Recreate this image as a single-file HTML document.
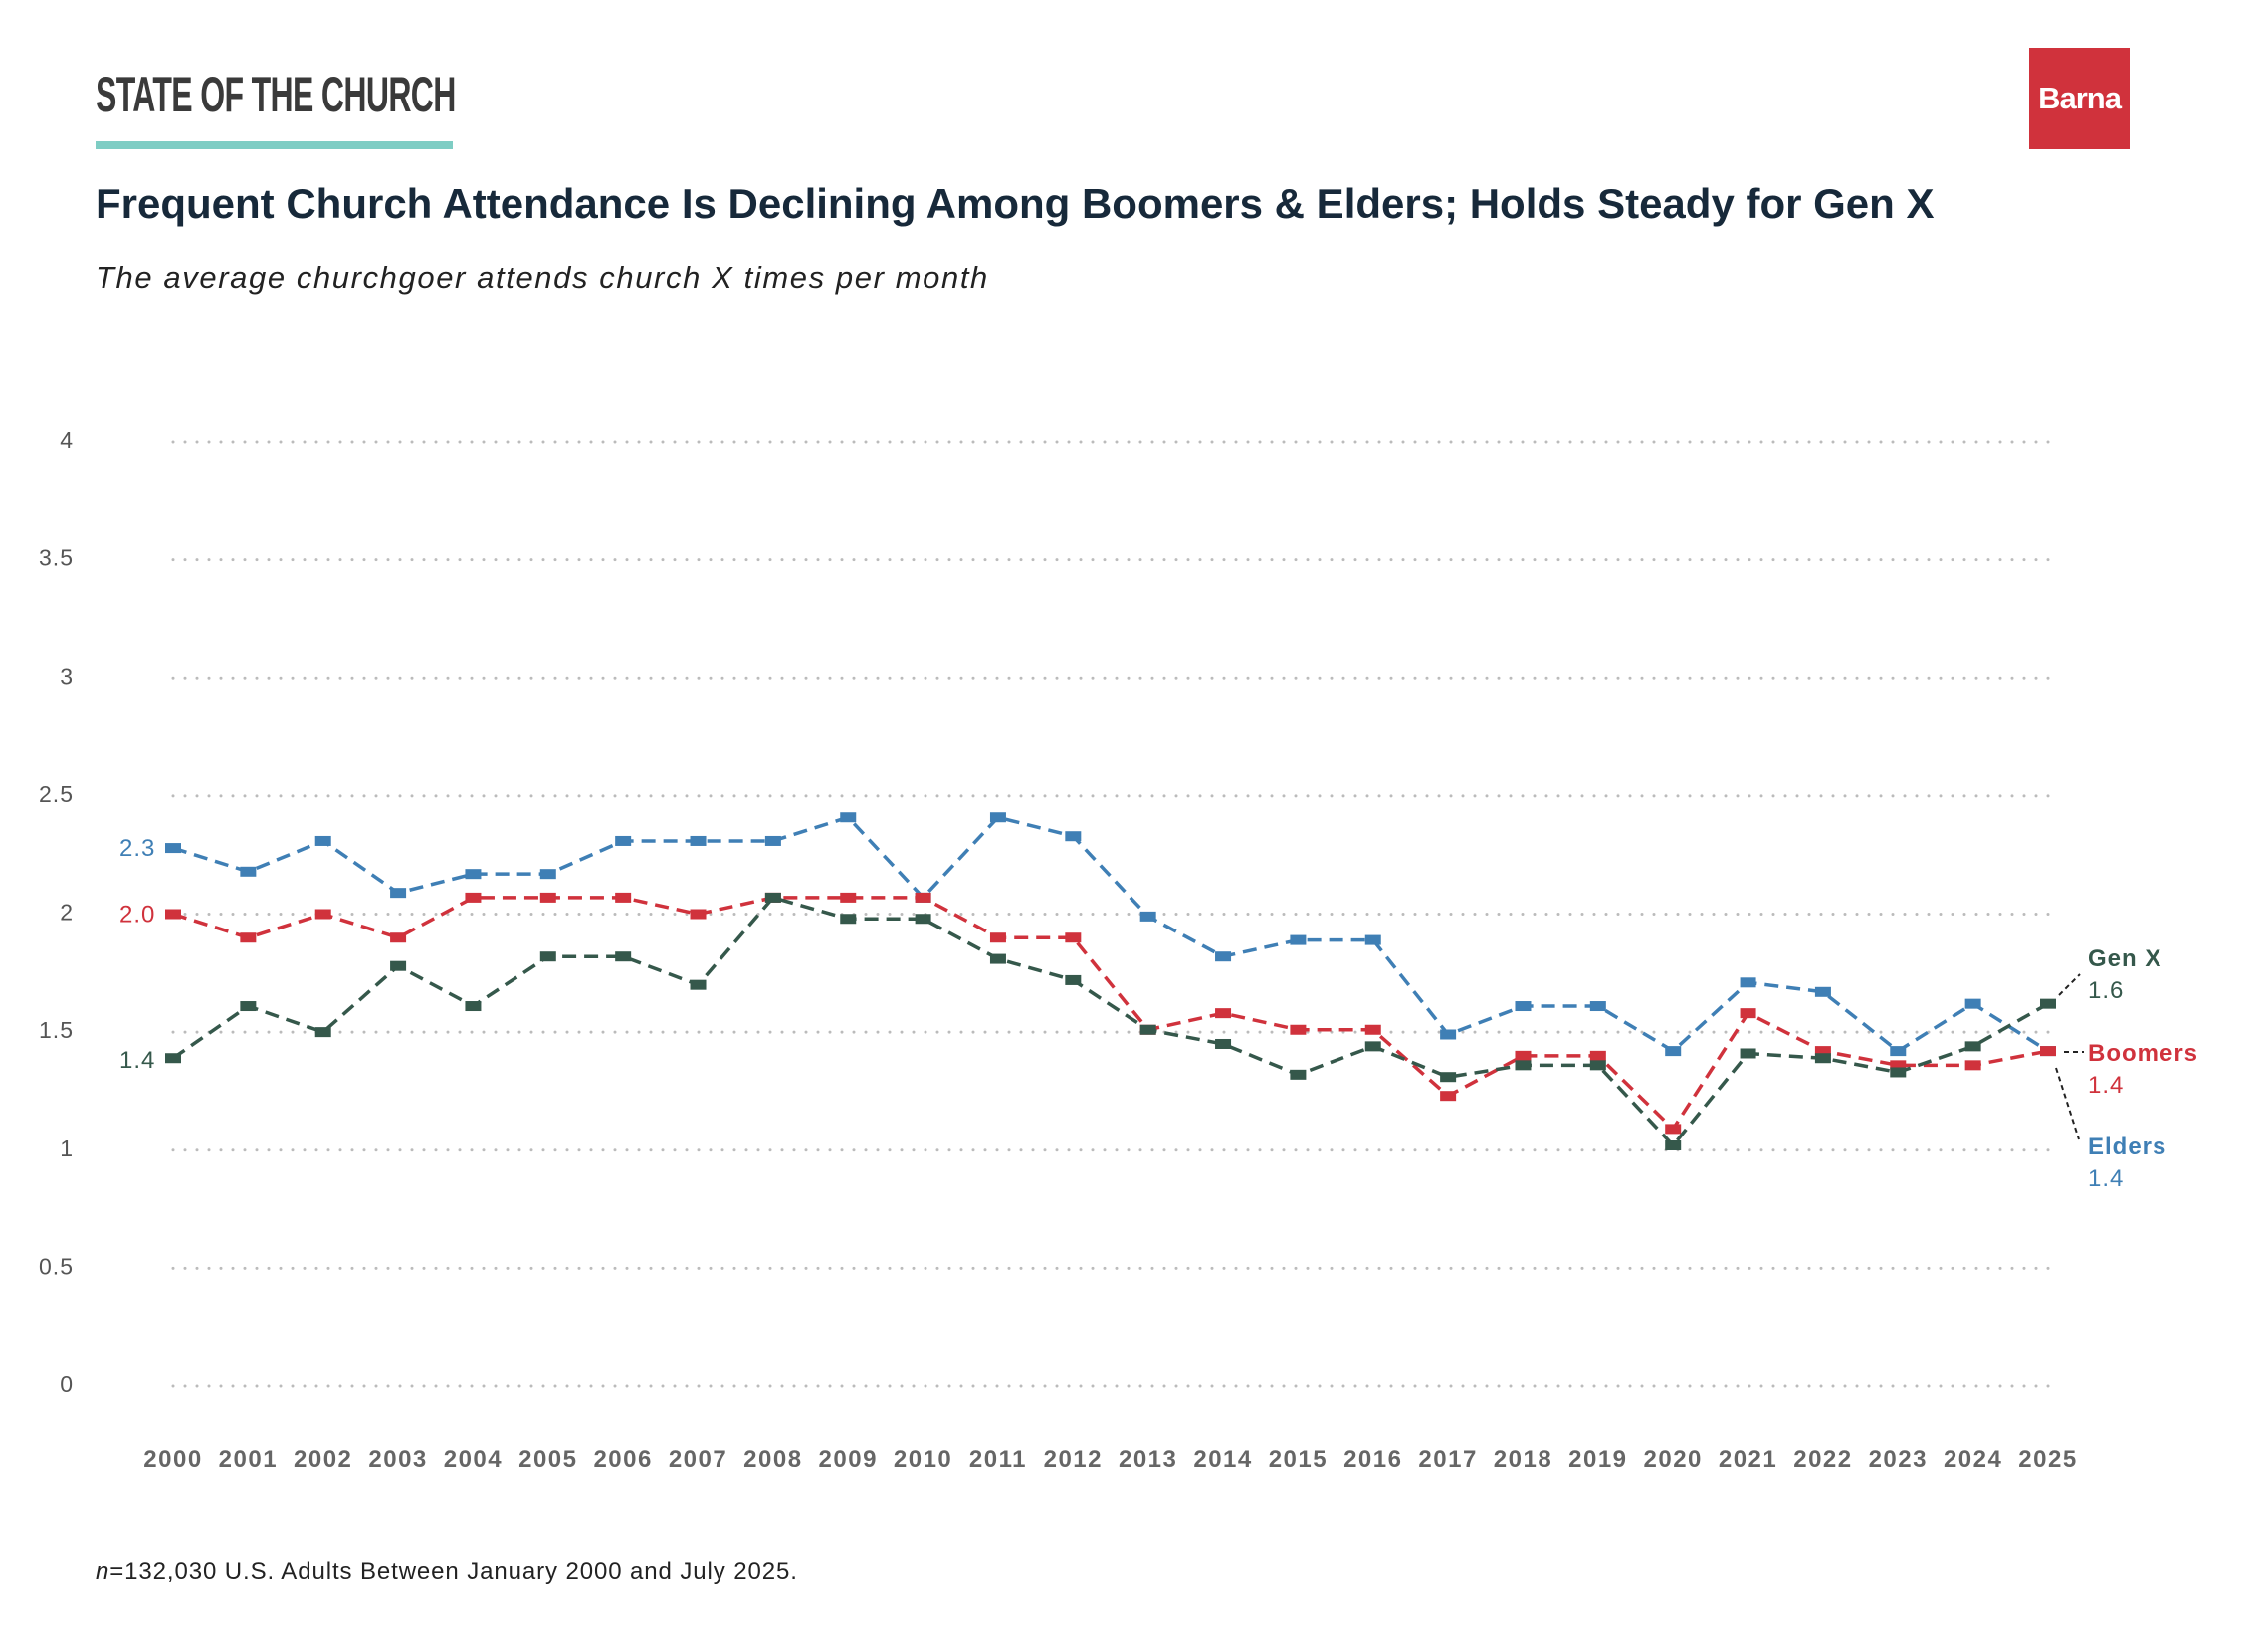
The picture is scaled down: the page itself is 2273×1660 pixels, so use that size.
<!DOCTYPE html>
<html><head><meta charset="utf-8"><style>
html,body{margin:0;padding:0;background:#fff;}
body{width:2273px;height:1660px;position:relative;overflow:hidden;font-family:"Liberation Sans",sans-serif;}
.abs{position:absolute;}
</style></head><body>
<div class="abs" style="left:96px;top:66px;font-family:'Liberation Sans Narrow','Liberation Sans',sans-serif;font-weight:bold;font-size:50px;color:#3a3a3a;transform:scaleX(0.64);transform-origin:left top;letter-spacing:-1px;white-space:nowrap;">STATE OF THE CHURCH</div>
<div class="abs" style="left:96px;top:142px;width:359px;height:8px;background:#7ecdc4;"></div>
<div class="abs" style="left:2039px;top:48px;width:101px;height:102px;background:#d0323c;color:#fff;font-weight:bold;font-size:31px;display:flex;align-items:center;justify-content:center;letter-spacing:-1px;">Barna</div>
<div class="abs" style="left:96px;top:181px;font-size:42px;font-weight:bold;color:#17293a;white-space:nowrap;">Frequent Church Attendance Is Declining Among Boomers &amp; Elders; Holds Steady for Gen X</div>
<div class="abs" style="left:96px;top:261px;font-size:31px;letter-spacing:1.6px;font-style:italic;color:#222;white-space:nowrap;">The average churchgoer attends church X times per month</div>
<div class="abs" style="left:96px;top:1566px;font-size:24px;letter-spacing:0.9px;color:#222;white-space:nowrap;"><i>n</i>=132,030 U.S. Adults Between January 2000 and July 2025.</div>
<svg class="abs" style="left:0;top:0" width="2273" height="1660" id="chart"></svg>
<script>
const years=[2000,2001,2002,2003,2004,2005,2006,2007,2008,2009,2010,2011,2012,2013,2014,2015,2016,2017,2018,2019,2020,2021,2022,2023,2024,2025];
const yTicks=[0,0.5,1,1.5,2,2.5,3,3.5,4];
const yTickLabels=["0","0.5","1","1.5","2","2.5","3","3.5","4"];
const elders=[2.28,2.18,2.31,2.09,2.17,2.17,2.31,2.31,2.31,2.41,2.07,2.41,2.33,1.99,1.82,1.89,1.89,1.49,1.61,1.61,1.42,1.71,1.67,1.42,1.62,1.42];
const boomers=[2.0,1.9,2.0,1.9,2.07,2.07,2.07,2.0,2.07,2.07,2.07,1.9,1.9,1.51,1.58,1.51,1.51,1.23,1.4,1.4,1.09,1.58,1.42,1.36,1.36,1.42];
const genx=[1.39,1.61,1.5,1.78,1.61,1.82,1.82,1.7,2.07,1.98,1.98,1.81,1.72,1.51,1.45,1.32,1.44,1.31,1.36,1.36,1.02,1.41,1.39,1.33,1.44,1.62];
const NS="http://www.w3.org/2000/svg";
const svg=document.getElementById('chart');
const X=i=>174+i*(2058-174)/(years.length-1);
const Y=v=>1393-v*(1393-444)/4;
function el(t,a){const e=document.createElementNS(NS,t);for(const k in a)e.setAttribute(k,a[k]);svg.appendChild(e);return e;}
yTicks.forEach((t,i)=>{
  const g=el('line',{x1:174,x2:2063,y1:Y(t),y2:Y(t),stroke:'#bbb','stroke-width':3,'stroke-dasharray':'0 12','stroke-linecap':'round'});
  
  
  const l=el('text',{x:74,y:Y(t)+6,'text-anchor':'end','font-size':23,'letter-spacing':1,fill:'#555','font-family':'Liberation Sans, sans-serif'});
  l.textContent=yTickLabels[i];
  
  
});
years.forEach((y,i)=>{
  const l=el('text',{x:X(i),y:1474,'text-anchor':'middle','font-size':24,'letter-spacing':1.5,'font-weight':'bold',fill:'#666','font-family':'Liberation Sans, sans-serif'});
  l.textContent=y;
  
  
});
function series(vals,color,name){
  const p=el('polyline',{points:vals.map((v,i)=>X(i)+','+Y(v)).join(' '),fill:'none',stroke:color,'stroke-width':3.5,'stroke-dasharray':'14 8'});
  
  
  vals.forEach((v,i)=>{
    const r=el('rect',{x:X(i)-8,y:Y(v)-5,width:16,height:10,fill:color});
    
    
  });
}
series(elders,'#3f7fb5','elders');
series(boomers,'#d0323c','boomers');
series(genx,'#35584b','genx');
function txt(x,y,s,c,b,n){const t=el('text',{x:x,y:y,'font-size':24,'letter-spacing':1,fill:c,'font-weight':b?'bold':'normal','font-family':'Liberation Sans, sans-serif'});t.textContent=s;

}
txt(120,Y(elders[0])+8,'2.3','#3f7fb5',false,'elders-start-label');
txt(120,Y(boomers[0])+8,'2.0','#d0323c',false,'boomers-start-label');
txt(120,Y(genx[0])+10,'1.4','#35584b',false,'genx-start-label');
txt(2098,971,'Gen X','#35584b',true,'genx-end-label');
txt(2098,1003,'1.6','#35584b',false,'genx-end-value');
txt(2098,1066,'Boomers','#d0323c',true,'boomers-end-label');
txt(2098,1098,'1.4','#d0323c',false,'boomers-end-value');
txt(2098,1160,'Elders','#3f7fb5',true,'elders-end-label');
txt(2098,1192,'1.4','#3f7fb5',false,'elders-end-value');
[[2069,1000,2090,979],[2074,1057,2094,1057],[2066,1073,2089,1145]].forEach(c=>{
  const l=el('line',{x1:c[0],y1:c[1],x2:c[2],y2:c[3],stroke:'#222','stroke-width':2,'stroke-dasharray':'5 4'});
  
  
});
</script>
</body></html>
